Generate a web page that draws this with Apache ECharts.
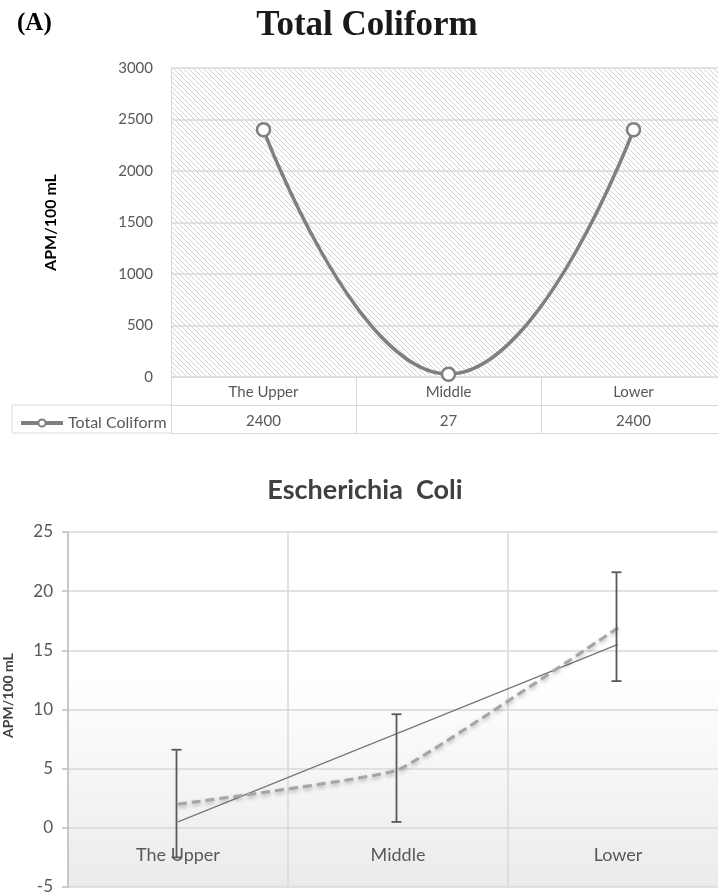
<!DOCTYPE html>
<html>
<head>
<meta charset="utf-8">
<script src="https://cdn.jsdelivr.net/npm/echarts@6/dist/echarts.min.js"></script>
<style>
  html, body { margin: 0; padding: 0; background: #fff; }
  #chart { width: 718px; height: 894px; }
</style>
</head>
<body>
<div id="chart"></div>
<script>
// Total Coliform (top)
const sites = ["The Upper", "Middle", "Lower"]
const coliform = [2400, 27, 2400]
const coliformTicks = [0, 3000, 500]

// Escherichia coli (bottom)
const ecoliTrend = [0.5, 8.0, 15.5]
const ecoliMean = [2.0, 4.9, 16.9]
const ecoliLow = [-2.5, 0.5, 12.4]
const ecoliHigh = [6.6, 9.6, 21.6]
const ecoliTicks = [-5, 25, 5]

const sans = "Lato"
const gray = "#595959"
const gridGray = "#d9d9d9"

// diagonal hatch for the top plot area
const tile = document.createElement("canvas")
tile.width = tile.height = 5
const tctx = tile.getContext("2d")
tctx.strokeStyle = "#d2d2d2"
tctx.lineWidth = 1
tctx.beginPath()
tctx.moveTo(-1, -1); tctx.lineTo(6, 6)
tctx.moveTo(-1, 4); tctx.lineTo(1, 6)
tctx.moveTo(4, -1); tctx.lineTo(6, 1)
tctx.stroke()

const chart = echarts.init(document.getElementById("chart"), null, { renderer: "canvas" })

// bottom plot: the category labels sit just under the zero line
const ecoliTop = 532
const ecoliHeight = 355
const zeroOffset = -ecoliHeight * (0 - ecoliTicks[0]) / (ecoliTicks[1] - ecoliTicks[0])

const option = {
  animation: false,
  title: [
    {
      text: "(A)", left: 12, top: 6,
      textStyle: { fontFamily: "Liberation Serif", fontWeight: "bold", fontSize: 25, color: "#000" },
    },
    {
      text: "Total Coliform", left: 362, textAlign: "center", top: 3,
      textStyle: { fontFamily: "Liberation Serif", fontWeight: "bold", fontSize: 35, color: "#1a1a1a" },
    },
    {
      text: "Escherichia  Coli", left: 360, textAlign: "center", top: 472,
      textStyle: { fontFamily: sans, fontWeight: "bold", fontSize: 27, color: "#404040" },
    },
  ],
  legend: {
    data: ["Total Coliform"],
    left: 14, top: 410,
    itemWidth: 42, itemHeight: 9,
    lineStyle: { width: 4 },
    textStyle: { fontFamily: sans, fontSize: 16, color: gray },
  },
  grid: [
    {
      left: 171, top: 68, width: 555, height: 309,
      outerBoundsMode: "none",
      show: true, borderWidth: 0,
      backgroundColor: { image: tile, repeat: "repeat" },
    },
    {
      left: 68, top: ecoliTop, width: 660, height: ecoliHeight,
      outerBoundsMode: "none",
      show: true, borderWidth: 0,
      backgroundColor: new echarts.graphic.LinearGradient(0, 0, 0, 1, [
        { offset: 0, color: "#ffffff" },
        { offset: 0.4, color: "#ffffff" },
        { offset: 1, color: "#ebebeb" },
      ]),
    },
  ],
  xAxis: [
    {
      gridIndex: 0, type: "category", data: sites,
      axisLine: { show: true, lineStyle: { color: gridGray } },
      axisTick: { show: true, interval: 0, length: 56, lineStyle: { color: gridGray } },
      axisLabel: { margin: 8, fontFamily: sans, fontSize: 15, color: gray },
    },
    {
      gridIndex: 0, type: "category", data: sites, position: "bottom", offset: 28,
      axisLine: { show: true, lineStyle: { color: gridGray } },
      axisTick: { show: false },
      axisLabel: {
        margin: 9, fontFamily: sans, fontSize: 15, color: gray,
        formatter: (v, i) => String(coliform[i]),
      },
    },
    {
      gridIndex: 0, type: "category", data: sites, position: "bottom", offset: 56,
      axisLine: { show: true, lineStyle: { color: gridGray } },
      axisTick: { show: false },
      axisLabel: { show: false },
    },
    {
      gridIndex: 1, type: "category", data: sites,
      position: "bottom", offset: zeroOffset,
      axisLine: { show: false, onZero: false },
      axisTick: { show: false },
      splitLine: { show: true, interval: 0, lineStyle: { color: gridGray, width: 1.5 } },
      axisLabel: { margin: 18, fontFamily: sans, fontSize: 18, color: gray },
    },
  ],
  yAxis: [
    {
      gridIndex: 0, type: "value",
      min: coliformTicks[0], max: coliformTicks[1], interval: coliformTicks[2],
      name: "APM/100 mL", nameLocation: "middle", nameGap: 112,
      nameTextStyle: { fontFamily: sans, fontWeight: "bold", fontSize: 16, color: "#000" },
      axisLine: { show: true, lineStyle: { color: gridGray } },
      axisTick: { show: false },
      splitLine: { lineStyle: { color: gridGray, width: 1.5 } },
      axisLabel: { margin: 18, fontFamily: sans, fontSize: 15, color: gray, formatter: (v) => String(v) },
    },
    {
      gridIndex: 1, type: "value",
      min: ecoliTicks[0], max: ecoliTicks[1], interval: ecoliTicks[2],
      name: "APM/100 mL", nameLocation: "middle", nameGap: 53,
      nameTextStyle: {
        fontFamily: sans, fontWeight: "bold", fontSize: 14, color: "#404040",
        padding: [0, 0, 0, 28],
      },
      axisLine: { show: true, lineStyle: { color: "#bfbfbf", width: 1.5 } },
      axisTick: { show: true, length: 6, lineStyle: { color: "#bfbfbf", width: 1.5 } },
      splitLine: { lineStyle: { color: gridGray, width: 1.5 } },
      axisLabel: { margin: 15, fontFamily: sans, fontSize: 17, color: gray },
    },
  ],
  graphic: [
    {
      type: "polyline", silent: true,
      shape: { points: [[171, 405], [12, 405], [12, 433], [171, 433]] },
      style: { stroke: gridGray, fill: null, lineWidth: 1 },
    },
  ],
  series: [
    {
      name: "Total Coliform", type: "line", xAxisIndex: 0, yAxisIndex: 0,
      data: coliform, smooth: 0.5,
      symbol: "circle", symbolSize: 13,
      lineStyle: { color: "#7f7f7f", width: 3.5 },
      itemStyle: { color: "#ffffff", borderColor: "#7f7f7f", borderWidth: 2.5 },
    },
    {
      name: "Trend", type: "line", xAxisIndex: 3, yAxisIndex: 1,
      data: ecoliTrend, symbol: "none",
      lineStyle: { color: "#7a7a7a", width: 1.5 },
    },
    {
      name: "E. coli", type: "line", xAxisIndex: 3, yAxisIndex: 1,
      data: ecoliMean, symbol: "none", smooth: 0.1,
      lineStyle: {
        color: "#a5a5a5", width: 3, type: [9, 5],
        shadowColor: "rgba(0,0,0,0.3)", shadowBlur: 4, shadowOffsetY: 2,
      },
      z: 3,
    },
    {
      name: "Error", type: "custom", xAxisIndex: 3, yAxisIndex: 1,
      data: sites.map((s, i) => [i, ecoliLow[i], ecoliHigh[i]]),
      renderItem: (params, api) => {
        const lo = api.coord([api.value(0), api.value(1)])
        const hi = api.coord([api.value(0), api.value(2)])
        const x = lo[0] - 1.5
        const cap = 5
        const style = { stroke: "#595959", lineWidth: 1.8 }
        return {
          type: "group",
          children: [
            { type: "line", shape: { x1: x, y1: lo[1], x2: x, y2: hi[1] }, style },
            { type: "line", shape: { x1: x - cap, y1: lo[1], x2: x + cap, y2: lo[1] }, style },
            { type: "line", shape: { x1: x - cap, y1: hi[1], x2: x + cap, y2: hi[1] }, style },
          ],
        }
      },
      z: 4,
    },
  ],
}

chart.setOption(option)
</script>
</body>
</html>
